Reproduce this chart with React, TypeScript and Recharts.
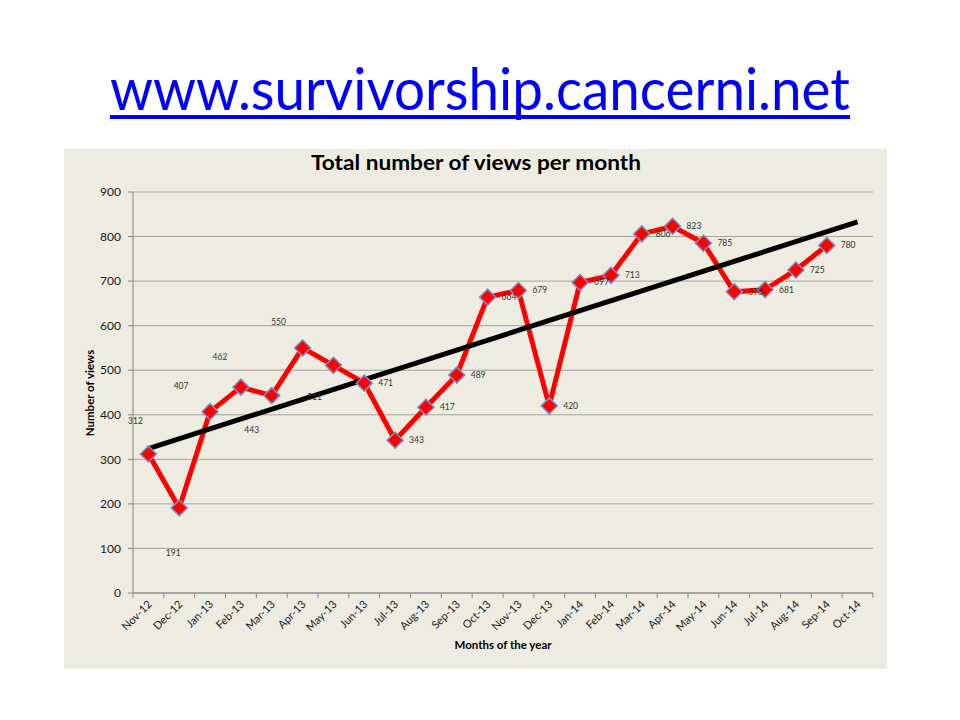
import React from 'react';
import { LineChart, Line, XAxis, YAxis, CartesianGrid, LabelList } from 'recharts';

const months = [
  'Nov-12', 'Dec-12', 'Jan-13', 'Feb-13', 'Mar-13', 'Apr-13', 'May-13', 'Jun-13',
  'Jul-13', 'Aug-13', 'Sep-13', 'Oct-13', 'Nov-13', 'Dec-13', 'Jan-14', 'Feb-14',
  'Mar-14', 'Apr-14', 'May-14', 'Jun-14', 'Jul-14', 'Aug-14', 'Sep-14', 'Oct-14',
];

const views: (number | null)[] = [
  312, 191, 407, 462, 443, 550, 511, 471,
  343, 417, 489, 664, 679, 420, 697, 713,
  806, 823, 785, 676, 681, 725, 780, null,
];

// linear trendline end points
const trendStart = 324;
const trendEnd = 833;

const yTicks = [0, 100, 200, 300, 400, 500, 600, 700, 800, 900];

// label placement nudges (style only) for the first months, by index
const labelNudges: { dx: number; dy: number }[] = [
  { dx: -13, dy: -33 },
  { dx: -6, dy: 45 },
  { dx: -29, dy: -26 },
  { dx: -21, dy: -30 },
  { dx: -20, dy: 34 },
  { dx: -24, dy: -26 },
  { dx: -19, dy: 32 },
];

const rows = months.map((m, i) => ({
  month: m,
  views: views[i],
  trend: i === 0 ? trendStart : i === months.length - 1 ? trendEnd : null,
}));

const FONT = 'Lato, "Open Sans", sans-serif';
const PLOT_W = 740;
const STEP = PLOT_W / months.length;

const Diamond = (props: any) => {
  const { cx, cy, value, index } = props;
  if (value == null || cx == null || cy == null) return <g key={`d-${index}`} />;
  const r = 8;
  return (
    <polygon
      key={`d-${index}`}
      points={`${cx},${cy - r} ${cx + r},${cy} ${cx},${cy + r} ${cx - r},${cy}`}
      fill="#FF0000"
      stroke="#7F8CC4"
      strokeWidth={1.5}
    />
  );
};

const renderLabel = (props: any) => {
  const { x, y, value, index } = props;
  if (value == null || x == null || y == null) return null;
  const n = labelNudges[index];
  if (n) {
    return (
      <text x={x + n.dx} y={y + n.dy} textAnchor="middle" dominantBaseline="central"
        fontSize={8.5} fontFamily={FONT} fill="#333">{value}</text>
    );
  }
  return (
    <text x={x + 14} y={y} textAnchor="start" dominantBaseline="central"
      fontSize={8.5} fontFamily={FONT} fill="#333">{value}</text>
  );
};

const XTick = (props: any) => {
  const { x, y, payload, index } = props;
  const tx = x + 4;
  const ty = y + 12;
  return (
    <g>
      <line x1={x - STEP / 2} y1={y} x2={x - STEP / 2} y2={y + 5} stroke="#868686" />
      {index === months.length - 1 && (
        <line x1={x + STEP / 2} y1={y} x2={x + STEP / 2} y2={y + 5} stroke="#868686" />
      )}
      <text x={tx} y={ty} transform={`rotate(-45 ${tx} ${ty})`} textAnchor="end"
        fontSize={11} fontFamily={FONT} fill="#1a1a1a">{payload.value}</text>
    </g>
  );
};

export default function App() {
  return (
    <div style={{ position: 'absolute', left: 0, top: 0, width: 960, height: 720, background: '#fff', fontFamily: FONT }}>
      <svg width={960} height={140} style={{ position: 'absolute', left: 0, top: 0 }}>
        <text x={110} y={110} fontSize={58} fill="#0000FF" fontFamily={FONT}
          textLength={740} lengthAdjust="spacingAndGlyphs">www.survivorship.cancerni.net</text>
        <rect x={110} y={115} width={740} height={4} fill="#0000FF" />
      </svg>
      <div style={{ position: 'absolute', left: 64, top: 149, width: 823, height: 520, background: '#EEECE1' }}>
        <LineChart width={823} height={520} data={rows}
          margin={{ top: 43, right: 14, bottom: 16, left: 29 }}>
          <CartesianGrid vertical={false} stroke="#A3A19A" strokeWidth={1} />
          <XAxis dataKey="month" scale="band" interval={0} tickLine={false} tickSize={0} tickMargin={0}
            height={60} axisLine={{ stroke: '#868686' }} tick={<XTick />} />
          <YAxis domain={[0, 900]} ticks={yTicks} width={40} tickSize={5} tickMargin={7}
            axisLine={{ stroke: '#868686' }} tickLine={{ stroke: '#868686' }}
            tick={{ fontSize: 12, fontFamily: FONT, fill: '#1a1a1a' }} />
          <Line dataKey="views" stroke="#FF0000" strokeWidth={5} dot={<Diamond />}
            activeDot={false} isAnimationActive={false} connectNulls={false}>
            <LabelList dataKey="views" content={renderLabel} />
          </Line>
          <Line dataKey="trend" stroke="#000000" strokeWidth={5} dot={false}
            activeDot={false} connectNulls isAnimationActive={false} />
        </LineChart>
        <svg width={823} height={520} style={{ position: 'absolute', left: 0, top: 0, pointerEvents: 'none' }}>
          <text x={412} y={21} textAnchor="middle" fontSize={20} fontWeight="bold"
            fontFamily={FONT} fill="#000" textLength={330} lengthAdjust="spacingAndGlyphs">
            Total number of views per month
          </text>
          <text x={30} y={244} textAnchor="middle" fontSize={11.5} fontWeight="bold"
            fontFamily={FONT} fill="#000" transform="rotate(-90 30 244)">Number of views</text>
          <text x={439} y={500} textAnchor="middle" fontSize={11.5} fontWeight="bold"
            fontFamily={FONT} fill="#000">Months of the year</text>
        </svg>
      </div>
    </div>
  );
}
